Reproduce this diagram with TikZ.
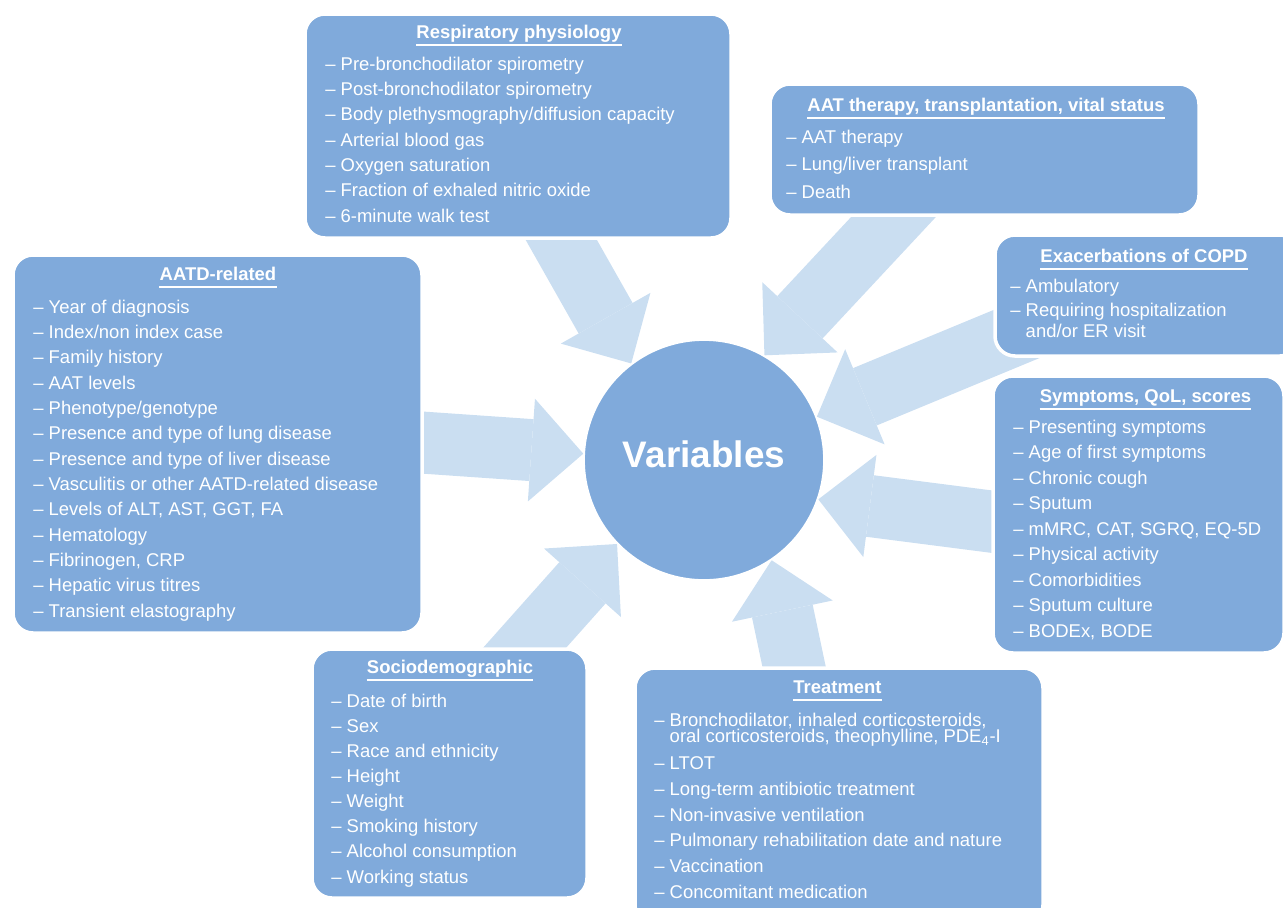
\documentclass[tikz,border=0pt]{standalone}
\usepackage{fontspec}
\setmainfont{Liberation Sans}
\usetikzlibrary{arrows.meta, backgrounds}
\definecolor{boxblue}{RGB}{128,170,219}
\definecolor{arrowblue}{RGB}{202,222,241}

\begin{document}
\begin{tikzpicture}[
    x=0.2mm, y=-0.2mm,
    panel/.style={rectangle, draw=white, line width=2pt, fill=boxblue, rounded corners=4mm, outer sep=0pt},
    head/.style={inner sep=0pt, text=white, font=\bfseries\fontsize{10.5}{12}\selectfont},
    items/.style={inner sep=0pt, align=left, text=white, anchor=base west, font=\fontsize{10.5}{14.4}\selectfont},
    uline/.style={draw=white, line width=1.1pt},
    bigarrow/.style={draw=arrowblue, line width=12.4mm, -{Triangle[length=10.4mm, width=20.6mm, line width=0pt]}}
]
\useasboundingbox (0,0) rectangle (1283,907);
\clip (0,0) rectangle (1283,907);

% CENTRE
\node[circle, fill=boxblue, draw=white, line width=1pt, minimum size=48mm, inner sep=0pt, text depth=2.2mm,
      text=white, font=\bfseries\fontsize{21}{24}\selectfont] (var) at (704,460) {Variables};

% BOITES
\node[panel, minimum width=85.2mm, minimum height=44.8mm] (resp) at (518,126) {};
\node[panel, minimum width=85.8mm, minimum height=26.2mm] (aat) at (984.5,149.5) {};
\node[panel, minimum width=61mm, minimum height=24.2mm] (exac) at (1147.5,295.5) {};
\node[panel, minimum width=58.2mm, minimum height=55.4mm] (symp) at (1138.5,514.5) {};
\node[panel, minimum width=81.6mm, minimum height=51.4mm] (treat) at (839,796.5) {};
\node[panel, minimum width=55mm, minimum height=49.8mm] (socio) at (449.5,773.5) {};
\node[panel, minimum width=81.8mm, minimum height=75.6mm] (aatd) at (217.5,444) {};

% TITRES
\node[head, anchor=base] (respT) at ([shift={(1,24)}]resp.north) {Respiratory physiology};
\node[head, anchor=base] (aatT) at ([shift={(1.5,27)}]aat.north) {AAT therapy, transplantation, vital status};
\node[head, anchor=base] (exacT) at ([shift={(-3.5,27)}]exac.north) {Exacerbations of COPD};
\node[head, anchor=base] (sympT) at ([shift={(7,26)}]symp.north) {Symptoms, QoL, scores};
\node[head, anchor=base] (treatT) at ([shift={(-1.5,25)}]treat.north) {Treatment};
\node[head, anchor=base] (socioT) at ([shift={(0.5,24)}]socio.north) {Sociodemographic};
\node[head, anchor=base] (aatdT) at ([shift={(0.5,25)}]aatd.north) {AATD-related};

\draw[uline] ([yshift=-4pt]respT.base west) -- ([yshift=-4pt]respT.base east);
\draw[uline] ([yshift=-4pt]aatT.base west) -- ([yshift=-4pt]aatT.base east);
\draw[uline] ([yshift=-4pt]exacT.base west) -- ([yshift=-4pt]exacT.base east);
\draw[uline] ([yshift=-4pt]sympT.base west) -- ([yshift=-4pt]sympT.base east);
\draw[uline] ([yshift=-4pt]treatT.base west) -- ([yshift=-4pt]treatT.base east);
\draw[uline] ([yshift=-4pt]socioT.base west) -- ([yshift=-4pt]socioT.base east);
\draw[uline] ([yshift=-4pt]aatdT.base west) -- ([yshift=-4pt]aatdT.base east);

% LISTES (ancrees sur la derniere ligne)
\node[items] (respL) at ([shift={(20,208)}]resp.north west) {%
– Pre-bronchodilator spirometry\\
– Post-bronchodilator spirometry\\
– Body plethysmography/diffusion capacity\\
– Arterial blood gas\\
– Oxygen saturation\\
– Fraction of exhaled nitric oxide\\
– 6-minute walk test};

\node[items, font=\fontsize{10.5}{15.6}\selectfont] (aatL) at ([shift={(16,114)}]aat.north west) {%
– AAT therapy\\
– Lung/liver transplant\\
– Death};

\node[items, font=\fontsize{10.5}{13.7}\selectfont] (exacL) at ([shift={(15,102)}]exac.north west) {%
– Ambulatory\\
– Requiring hospitalization\\[-2.3pt]
\hphantom{– }and/or ER visit};

\node[items, font=\fontsize{10.5}{14.5}\selectfont] (sympL) at ([shift={(20,261)}]symp.north west) {%
– Presenting symptoms\\
– Age of first symptoms\\
– Chronic cough\\
– Sputum\\
– mMRC, CAT, SGRQ, EQ-5D\\
– Physical activity\\
– Comorbidities\\
– Sputum culture\\
– BODEx, BODE};

\node[items, font=\fontsize{10.5}{14.6}\selectfont] (treatL) at ([shift={(19,230)}]treat.north west) {%
– Bronchodilator, inhaled corticosteroids,\\[-5.5pt]
\hphantom{– }oral corticosteroids, theophylline, PDE\textsubscript{4}-I\\[0.8pt]
– LTOT\\
– Long-term antibiotic treatment\\
– Non-invasive ventilation\\
– Pulmonary rehabilitation date and nature\\
– Vaccination\\
– Concomitant medication};

\node[items, font=\fontsize{10.5}{14.3}\selectfont] (socioL) at ([shift={(19,234)}]socio.north west) {%
– Date of birth\\
– Sex\\
– Race and ethnicity\\
– Height\\
– Weight\\
– Smoking history\\
– Alcohol consumption\\
– Working status};

\node[items] (aatdL) at ([shift={(20,362)}]aatd.north west) {%
– Year of diagnosis\\
– Index/non index case\\
– Family history\\
– AAT levels\\
– Phenotype/genotype\\
– Presence and type of lung disease\\
– Presence and type of liver disease\\
– Vasculitis or other AATD-related disease\\
– Levels of ALT, AST, GGT, FA\\
– Hematology\\
– Fibrinogen, CRP\\
– Hepatic virus titres\\
– Transient elastography};

% FLECHES (derriere les boites)
\begin{scope}[on background layer]
\draw[bigarrow] ([shift={(32,-18)}]resp.south) -- (var.127);
\draw[bigarrow] ([shift={(-56.5,-35)}]aat.south) -- (var.60);
\draw[bigarrow] ([shift={(65,20.5)}]exac.west) -- (var.21);
\draw[bigarrow] ([shift={(17,9.5)}]symp.west) -- (var.-19);
\draw[bigarrow] ([shift={(-40,22)}]treat.north) -- (var.-56);
\draw[bigarrow] ([shift={(37.5,41)}]socio.north) -- (var.224);
\draw[bigarrow] ([shift={(-22,-3)}]aatd.east) -- (var.177);
\end{scope}

\end{tikzpicture}
\end{document}
